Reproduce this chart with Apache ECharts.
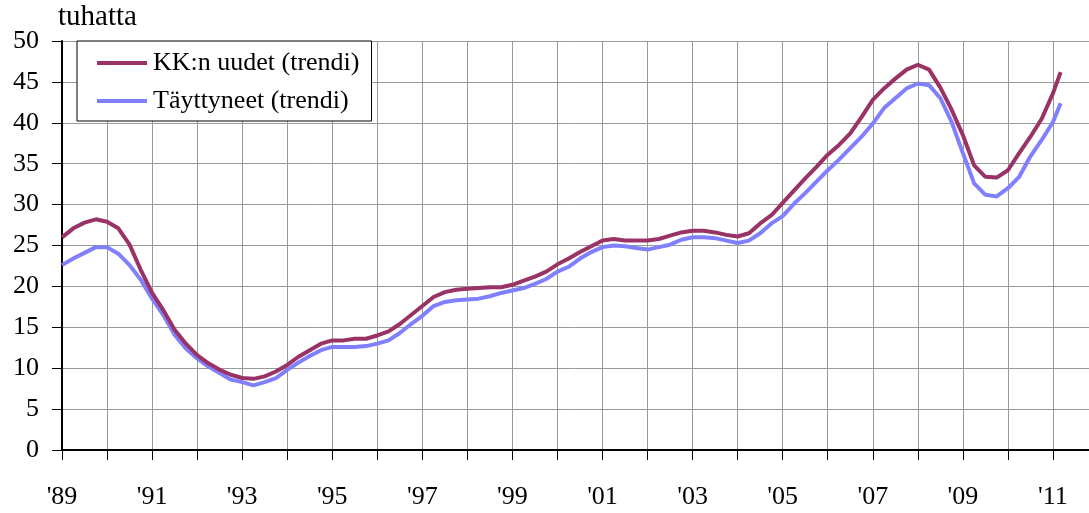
<!DOCTYPE html>
<html>
<head>
<meta charset="utf-8">
<script src="https://cdn.jsdelivr.net/npm/echarts@6/dist/echarts.min.js"></script>
<style>
html, body { margin: 0; padding: 0; background: #fff; }
#chart { width: 1089px; height: 513px; }
</style>
</head>
<body>
<div id="chart"></div>
<script>
// quarterly readings, last point ~ Feb 2011
var years = [
	1989.00, 1989.25, 1989.50, 1989.75, 1990.00, 1990.25, 1990.50, 1990.75,
	1991.00, 1991.25, 1991.50, 1991.75, 1992.00, 1992.25, 1992.50, 1992.75,
	1993.00, 1993.25, 1993.50, 1993.75, 1994.00, 1994.25, 1994.50, 1994.75,
	1995.00, 1995.25, 1995.50, 1995.75, 1996.00, 1996.25, 1996.50, 1996.75,
	1997.00, 1997.25, 1997.50, 1997.75, 1998.00, 1998.25, 1998.50, 1998.75,
	1999.00, 1999.25, 1999.50, 1999.75, 2000.00, 2000.25, 2000.50, 2000.75,
	2001.00, 2001.25, 2001.50, 2001.75, 2002.00, 2002.25, 2002.50, 2002.75,
	2003.00, 2003.25, 2003.50, 2003.75, 2004.00, 2004.25, 2004.50, 2004.75,
	2005.00, 2005.25, 2005.50, 2005.75, 2006.00, 2006.25, 2006.50, 2006.75,
	2007.00, 2007.25, 2007.50, 2007.75, 2008.00, 2008.25, 2008.50, 2008.75,
	2009.00, 2009.25, 2009.50, 2009.75, 2010.00, 2010.25, 2010.50, 2010.75,
	2011.00, 2011.17
];
var kkUudet = [
	26.0, 27.1, 27.8, 28.2, 27.9, 27.1, 25.1, 22.0,
	19.2, 17.1, 14.7, 13.0, 11.6, 10.6, 9.8, 9.2,
	8.8, 8.7, 9.0, 9.6, 10.4, 11.4, 12.2, 13.0,
	13.4, 13.4, 13.6, 13.6, 14.0, 14.5, 15.4, 16.5,
	17.6, 18.7, 19.3, 19.6, 19.7, 19.8, 19.9, 19.9,
	20.2, 20.7, 21.2, 21.8, 22.7, 23.4, 24.2, 24.9,
	25.6, 25.8, 25.6, 25.6, 25.6, 25.8, 26.2, 26.6,
	26.8, 26.8, 26.6, 26.3, 26.1, 26.5, 27.7, 28.7,
	30.2, 31.7, 33.2, 34.6, 36.1, 37.3, 38.7, 40.7,
	42.8, 44.2, 45.4, 46.5, 47.1, 46.5, 44.3, 41.6,
	38.5, 34.8, 33.4, 33.3, 34.2, 36.3, 38.3, 40.5,
	43.6, 46.2
];
var taytetyt = [
	22.6, 23.4, 24.1, 24.8, 24.8, 24.0, 22.6, 20.8,
	18.5, 16.5, 14.1, 12.4, 11.2, 10.2, 9.4, 8.6,
	8.3, 7.9, 8.3, 8.8, 9.8, 10.7, 11.5, 12.2,
	12.6, 12.6, 12.6, 12.7, 13.0, 13.4, 14.3, 15.4,
	16.4, 17.6, 18.1, 18.3, 18.4, 18.5, 18.8, 19.2,
	19.5, 19.8, 20.3, 20.9, 21.8, 22.4, 23.4, 24.2,
	24.8, 25.0, 24.9, 24.7, 24.5, 24.8, 25.1, 25.7,
	26.0, 26.0, 25.9, 25.6, 25.3, 25.6, 26.5, 27.7,
	28.6, 30.1, 31.4, 32.8, 34.2, 35.5, 36.9, 38.3,
	39.9, 41.8, 43.0, 44.2, 44.8, 44.6, 43.0, 40.1,
	36.3, 32.6, 31.2, 31.0, 32.0, 33.4, 35.9, 37.9,
	40.1, 42.4
];
var seriesNames = ['KK:n uudet (trendi)', 'Täyttyneet (trendi)'];
var yTicks = [0, 5, 10, 15, 20, 25, 30, 35, 40, 45, 50];

function pairs(vals){
	var out = [];
	for(var i = 0; i < years.length; i++){
		out.push([years[i], vals[i]]);
	}
	return out;
}

var font = 'Liberation Serif';
var myChart = echarts.init(document.getElementById('chart'));
var option = {
	animation: false,
	title: {
		text: 'tuhatta',
		left: 58,
		top: 3,
		padding: 0,
		textStyle: { fontFamily: font, fontSize: 29, fontWeight: 'normal', color: '#000' }
	},
	legend: {
		orient: 'vertical',
		left: 77,
		top: 41,
		padding: [9, 12, 7, 20],
		itemGap: 12,
		itemWidth: 50,
		itemHeight: 4,
		icon: 'rect',
		backgroundColor: '#fff',
		borderColor: '#000',
		borderWidth: 1,
		borderRadius: 0,
		data: seriesNames,
		textStyle: { fontFamily: font, fontSize: 26, color: '#000', lineHeight: 26, padding: [0, 0, 0, 1] }
	},
	grid: { left: 62, right: 0, top: 41, bottom: 63, containLabel: false },
	xAxis: {
		type: 'value',
		min: 1989,
		max: 2011.8,
		interval: 1,
		axisLine: { show: true, lineStyle: { color: '#000', width: 2 } },
		axisTick: { show: true, length: 10, lineStyle: { color: '#000' } },
		axisLabel: {
			margin: 34,
			fontFamily: font, fontSize: 26, color: '#000',
			showMaxLabel: false,
			formatter: function(v){
				if(Math.round(v) === v && v % 2 === 1){
					return "'" + String(v).slice(2);
				}
				return '';
			}
		},
		splitLine: { show: true, lineStyle: { color: '#999', width: 1 } }
	},
	yAxis: {
		type: 'value',
		min: yTicks[0],
		max: yTicks[yTicks.length - 1],
		interval: 5,
		axisLine: { show: true, lineStyle: { color: '#000', width: 2 } },
		axisTick: { show: true, length: 10, lineStyle: { color: '#000' } },
		axisLabel: { margin: 23, fontFamily: font, fontSize: 26, color: '#000' },
		splitLine: { show: true, lineStyle: { color: '#999', width: 1 } }
	},
	series: [{
		name: seriesNames[0],
		type: 'line',
		data: pairs(kkUudet),
		showSymbol: false,
		symbol: 'none',
		z: 3,
		lineStyle: { color: '#993366', width: 4 },
		itemStyle: { color: '#993366' }
	}, {
		name: seriesNames[1],
		type: 'line',
		data: pairs(taytetyt),
		showSymbol: false,
		symbol: 'none',
		z: 2,
		lineStyle: { color: '#8080ff', width: 4 },
		itemStyle: { color: '#8080ff' }
	}]
};
myChart.setOption(option);
</script>
</body>
</html>
